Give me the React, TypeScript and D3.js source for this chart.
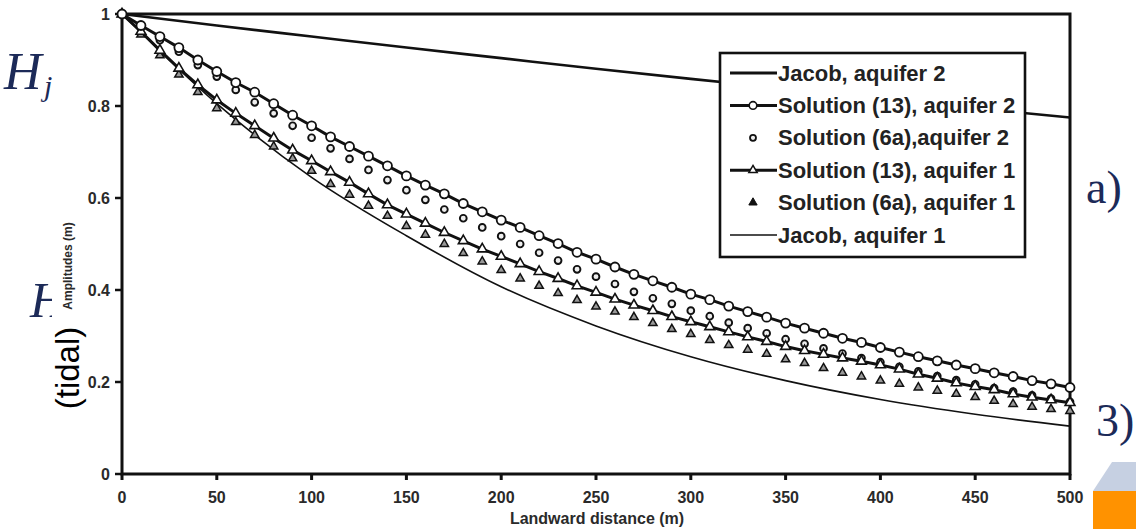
import React from 'react';
import * as d3 from 'd3';

const W = 1136;
const H = 529;

// landward distance (m), one sample every 10 m
const distances = [
  0, 10, 20, 30, 40, 50, 60, 70, 80, 90, 100, 110, 120, 130, 140, 150, 160, 170, 180, 190, 200,
  210, 220, 230, 240, 250, 260, 270, 280, 290, 300, 310, 320, 330, 340, 350, 360, 370, 380, 390,
  400, 410, 420, 430, 440, 450, 460, 470, 480, 490, 500,
];

const sol13Aq2 = [
  1.0, 0.975, 0.951, 0.927, 0.9, 0.875, 0.851, 0.83, 0.805, 0.78, 0.757, 0.733, 0.712, 0.691, 0.67,
  0.648, 0.628, 0.609, 0.588, 0.57, 0.552, 0.536, 0.518, 0.501, 0.482, 0.467, 0.45, 0.434, 0.42,
  0.406, 0.391, 0.379, 0.365, 0.353, 0.341, 0.328, 0.317, 0.306, 0.295, 0.286, 0.275, 0.265, 0.255,
  0.246, 0.237, 0.229, 0.22, 0.212, 0.203, 0.196, 0.188,
];

const sol6aAq2 = [
  1.0, 0.97, 0.943, 0.918, 0.889, 0.864, 0.835, 0.808, 0.784, 0.757, 0.731, 0.708, 0.685, 0.661,
  0.639, 0.617, 0.596, 0.575, 0.556, 0.536, 0.517, 0.5, 0.481, 0.464, 0.445, 0.429, 0.413, 0.396,
  0.382, 0.37, 0.355, 0.343, 0.329, 0.317, 0.306, 0.293, 0.283, 0.273, 0.262, 0.252, 0.243, 0.233,
  0.223, 0.213, 0.204, 0.195, 0.187, 0.179, 0.171, 0.164, 0.157,
];

const sol13Aq1 = [
  1.0, 0.962, 0.921, 0.882, 0.846, 0.813, 0.784, 0.757, 0.73, 0.704, 0.681, 0.657, 0.634, 0.609,
  0.585, 0.565, 0.545, 0.525, 0.507, 0.489, 0.473, 0.457, 0.44, 0.425, 0.409, 0.395, 0.38, 0.367,
  0.355, 0.342, 0.331, 0.32, 0.309, 0.298, 0.288, 0.277, 0.268, 0.26, 0.252, 0.245, 0.237, 0.228,
  0.217, 0.208, 0.198, 0.19, 0.183, 0.174, 0.167, 0.161, 0.155,
];

const sol6aAq1 = [
  1.0, 0.955, 0.91, 0.868, 0.83, 0.795, 0.765, 0.737, 0.712, 0.686, 0.659, 0.63, 0.607, 0.583, 0.561,
  0.539, 0.52, 0.5, 0.48, 0.462, 0.443, 0.425, 0.409, 0.393, 0.378, 0.364, 0.353, 0.341, 0.328,
  0.315, 0.304, 0.291, 0.28, 0.27, 0.261, 0.249, 0.241, 0.23, 0.22, 0.212, 0.203, 0.196, 0.188,
  0.181, 0.174, 0.167, 0.159, 0.152, 0.146, 0.141, 0.137,
];

// Jacob solutions read every 50 m
const jacobX = [0, 50, 100, 150, 200, 250, 300, 350, 400, 450, 500];
const jacobAq2 = [1.0, 0.975, 0.951, 0.927, 0.904, 0.881, 0.859, 0.838, 0.816, 0.795, 0.775];
const jacobAq1 = [1.0, 0.805, 0.645, 0.518, 0.407, 0.322, 0.255, 0.203, 0.162, 0.13, 0.104];

const xTicks = [0, 50, 100, 150, 200, 250, 300, 350, 400, 450, 500];
const yTicks = [0, 0.2, 0.4, 0.6, 0.8, 1];

const legendLabels = [
  'Jacob, aquifer 2',
  'Solution (13), aquifer 2',
  'Solution (6a),aquifer 2',
  'Solution (13), aquifer 1',
  'Solution (6a), aquifer 1',
  'Jacob, aquifer 1',
];

const INK = '#111';
const NAVY = '#1c2a58';
const FONT = 'Liberation Sans, Arial, sans-serif';
const SERIF = 'Liberation Serif, Times New Roman, serif';

const App = () => {
  const left = 122;
  const right = 1070;
  const top = 14;
  const bottom = 474;

  const x = d3.scaleLinear().domain([0, 500]).range([left, right]);
  const y = d3.scaleLinear().domain([0, 1]).range([bottom, top]);

  const pts = (vals: number[], xs: number[] = distances) => vals.map((v, i) => [xs[i], v] as [number, number]);

  const straight = d3.line<[number, number]>().x(d => x(d[0])).y(d => y(d[1]));
  const smooth = d3.line<[number, number]>().x(d => x(d[0])).y(d => y(d[1])).curve(d3.curveMonotoneX);

  const tri = d3.symbol().type(d3.symbolTriangle).size(42)() as string;
  const triSmall = d3.symbol().type(d3.symbolTriangle).size(30)() as string;

  const legX = 720;
  const legY = 53;
  const legRow = 32.4;

  return (
    <svg width={W} height={H} style={{ position: 'absolute', left: 0, top: 0, background: '#fff' }}>
      <defs>
        <clipPath id="hclip">
          <rect x={0} y={0} width={52} height={H} />
        </clipPath>
      </defs>

      {/* slide leftovers around the figure */}
      <text x={4} y={89} fontFamily={SERIF} fontStyle="italic" fontSize={52} fill={NAVY}>H</text>
      <text x={44} y={96} fontFamily={SERIF} fontStyle="italic" fontSize={30} fill={NAVY}>j</text>
      <text x={30} y={317} fontFamily={SERIF} fontStyle="italic" fontSize={50} fill={NAVY} clipPath="url(#hclip)">H</text>
      <text x={1086} y={203} fontFamily={SERIF} fontSize={46} fill={NAVY}>a)</text>
      <text x={1096} y={436} fontFamily={SERIF} fontSize={46} fill={NAVY}>3)</text>
      <path d="M1093,491 L1112,462 L1136,462 L1136,491 Z" fill="#c6d0e2" />
      <rect x={1093} y={491} width={43} height={38} fill="#ff9200" />

      {/* frame */}
      <rect x={left} y={top} width={right - left} height={bottom - top} fill="none" stroke={INK} strokeWidth={3} />

      {yTicks.map(t => (
        <g key={`y${t}`}>
          <line x1={left - 7} x2={left} y1={y(t)} y2={y(t)} stroke={INK} strokeWidth={2.5} />
          <text x={110} y={y(t) + 6} textAnchor="end" fontFamily={FONT} fontWeight="bold" fontSize={16} fill="#2a2a2a">
            {d3.format('~g')(t)}
          </text>
        </g>
      ))}
      {xTicks.map(t => (
        <g key={`x${t}`}>
          <line x1={x(t)} x2={x(t)} y1={bottom} y2={bottom + 6} stroke={INK} strokeWidth={3} />
          <text x={x(t)} y={503} textAnchor="middle" fontFamily={FONT} fontWeight="bold" fontSize={16} fill="#2a2a2a">
            {t}
          </text>
        </g>
      ))}

      <text x={597} y={524} textAnchor="middle" fontFamily={FONT} fontWeight="bold" fontSize={16} fill="#2a2a2a">
        Landward distance (m)
      </text>
      <text transform="translate(72,266) rotate(-90)" textAnchor="middle" fontFamily={FONT} fontWeight="bold" fontSize={12} fill="#2a2a2a">
        Amplitudes (m)
      </text>
      <text transform="translate(79,368) rotate(-90)" textAnchor="middle" fontFamily={FONT} fontSize={33} fill="#000">
        (tidal)
      </text>

      {/* curves */}
      <path d={smooth(pts(jacobAq2, jacobX)) as string} fill="none" stroke={INK} strokeWidth={2.6} />
      <path d={smooth(pts(jacobAq1, jacobX)) as string} fill="none" stroke={INK} strokeWidth={1.6} />

      {pts(sol6aAq1).map((d, i) => (
        <path key={`t6${i}`} d={triSmall} transform={`translate(${x(d[0])},${y(d[1])})`} fill="#999" stroke={INK} strokeWidth={1.5} />
      ))}
      {pts(sol6aAq2).map((d, i) => (
        <circle key={`c6${i}`} cx={x(d[0])} cy={y(d[1])} r={3.4} fill="#eee" stroke={INK} strokeWidth={1.9} />
      ))}

      <path d={straight(pts(sol13Aq1)) as string} fill="none" stroke={INK} strokeWidth={3} />
      {pts(sol13Aq1).map((d, i) => (
        <path key={`t13${i}`} d={tri} transform={`translate(${x(d[0])},${y(d[1])})`} fill="#fff" stroke={INK} strokeWidth={1.6} />
      ))}

      <path d={straight(pts(sol13Aq2)) as string} fill="none" stroke={INK} strokeWidth={3} />
      {pts(sol13Aq2).map((d, i) => (
        <circle key={`c13${i}`} cx={x(d[0])} cy={y(d[1])} r={4.5} fill="#fff" stroke={INK} strokeWidth={1.8} />
      ))}

      {/* legend */}
      <rect x={legX} y={legY} width={305} height={204} fill="#fff" stroke={INK} strokeWidth={2.6} />
      {legendLabels.map((label, i) => {
        const cy = legY + 20 + i * legRow;
        const sx = legX + 33;
        return (
          <g key={label}>
            {(i === 0 || i === 1 || i === 3) && (
              <line x1={legX + 10} x2={legX + 57} y1={cy} y2={cy} stroke={INK} strokeWidth={3} />
            )}
            {i === 5 && <line x1={legX + 10} x2={legX + 57} y1={cy} y2={cy} stroke={INK} strokeWidth={1.6} />}
            {i === 1 && <circle cx={sx} cy={cy} r={3.8} fill="#fff" stroke={INK} strokeWidth={1.6} />}
            {i === 2 && <circle cx={sx} cy={cy} r={3} fill="#eee" stroke={INK} strokeWidth={1.8} />}
            {i === 3 && <path d={triSmall} transform={`translate(${sx},${cy})`} fill="#fff" stroke={INK} strokeWidth={1.5} />}
            {i === 4 && <path d={triSmall} transform={`translate(${sx},${cy})`} fill={INK} stroke={INK} strokeWidth={1} />}
            <text x={legX + 58} y={cy + 7.5} fontFamily={FONT} fontWeight="bold" fontSize={22} fill="#222">
              {label}
            </text>
          </g>
        );
      })}
    </svg>
  );
};

export default App;
